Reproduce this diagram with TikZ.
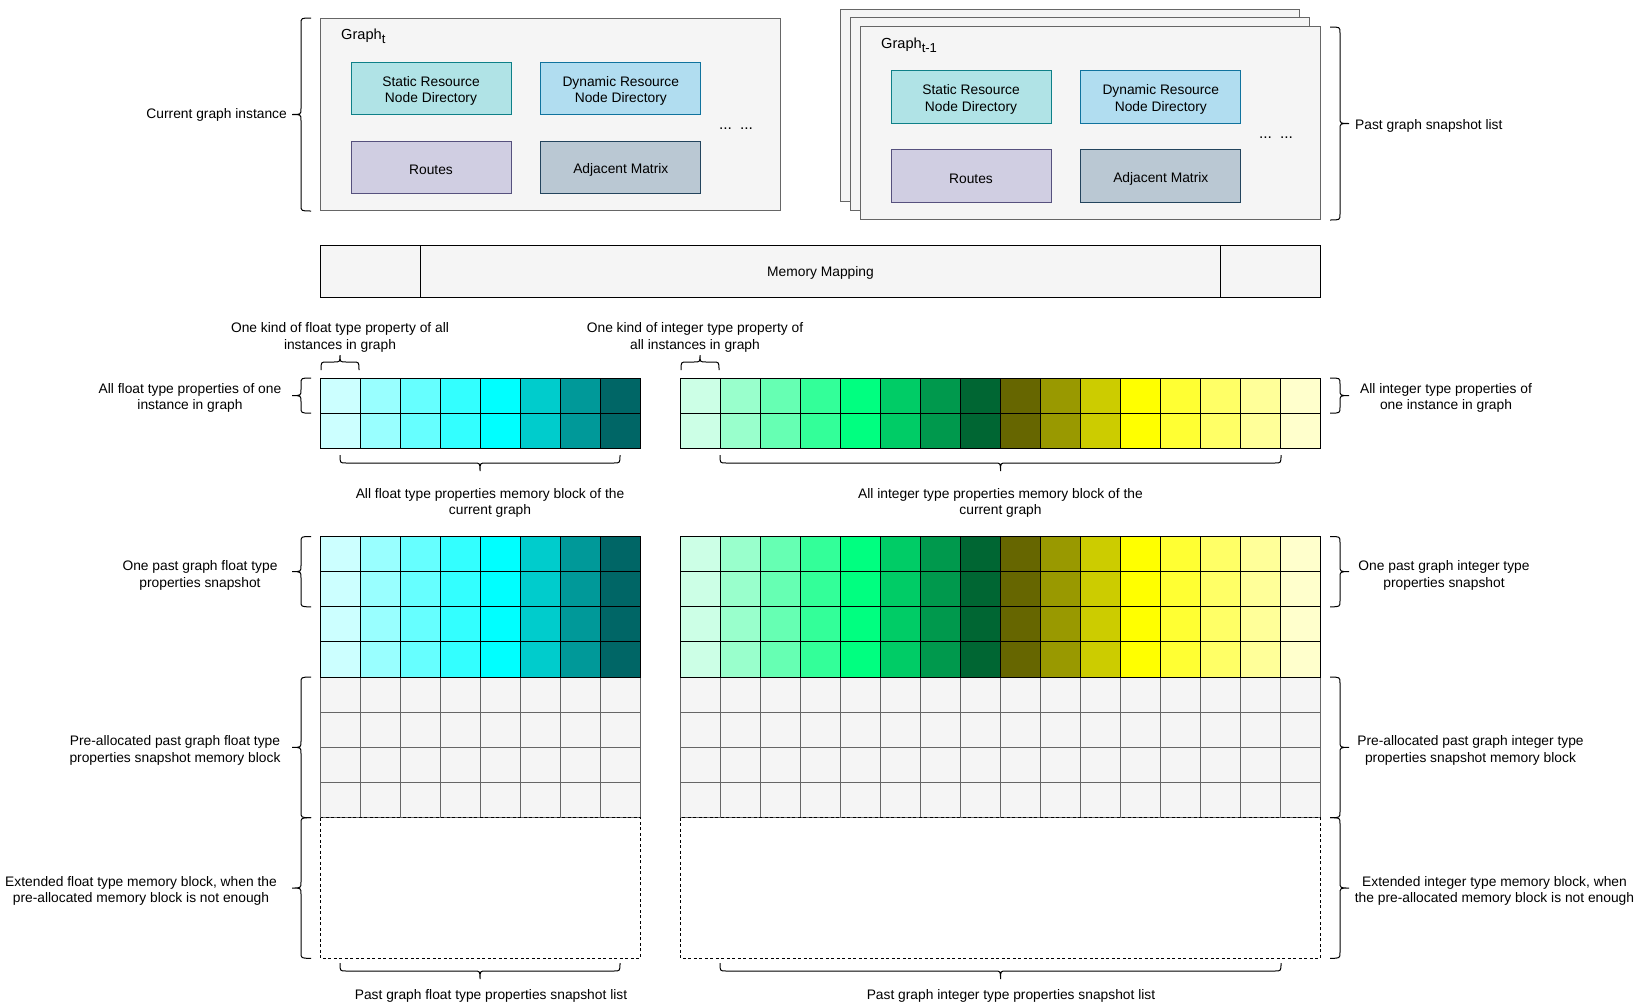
\documentclass[tikz,border=0pt]{standalone}
\usepackage{fontspec}
\setmainfont{Liberation Sans}
\usetikzlibrary{calc}
\definecolor{bgbox}{HTML}{F5F5F5}
\definecolor{bdbox}{HTML}{666666}
\definecolor{stfill}{HTML}{B0E3E6}
\definecolor{stdraw}{HTML}{0E8088}
\definecolor{dyfill}{HTML}{B1DDF0}
\definecolor{dydraw}{HTML}{10739E}
\definecolor{rofill}{HTML}{D0CEE2}
\definecolor{rodraw}{HTML}{56517E}
\definecolor{adfill}{HTML}{BAC8D3}
\definecolor{addraw}{HTML}{23445D}
\newcommand\gsub[1]{\raisebox{-4pt}{\fontsize{13}{13}\selectfont #1}}
\tikzset{
  every node/.style={font=\fontsize{13.8}{16.6}\selectfont, inner sep=0pt},
  container/.style={draw=bdbox, fill=bgbox, line width=1pt},
  inbox/.style={draw, line width=1pt, minimum width=160pt, minimum height=52.5pt, anchor=north west},
  lbl/.style={align=center, yshift=-2.4pt},
  dotsty/.style={font=\fontsize{15.5}{16}\selectfont, yshift=-3pt},
  gtitle/.style={anchor=west, font=\fontsize{14.6}{16}\selectfont, yshift=-1.5pt},
  brc/.style={draw=black, line width=1pt},
  cellc/.style={draw=black, line width=1pt},
  cellg/.style={draw=bdbox, fill=bgbox, line width=1pt},
}
% vertical brace: ends x, line x, tip x, top y, bottom y
\newcommand\vbr[5]{%
  \pgfmathsetmacro\bm{(#4+#5)/2}\pgfmathsetmacro\ba{#4+6}\pgfmathsetmacro\bb{#5-6}%
  \pgfmathsetmacro\bc{\bm-6}\pgfmathsetmacro\bd{\bm+6}%
  \draw[brc] (#1,#4) .. controls (#2,#4) .. (#2,\ba) -- (#2,\bc) .. controls (#2,\bm) .. (#3,\bm)
     .. controls (#2,\bm) .. (#2,\bd) -- (#2,\bb) .. controls (#2,#5) .. (#1,#5);}
% horizontal brace: ends y, line y, tip y, left x, right x
\newcommand\hbr[5]{%
  \pgfmathsetmacro\bm{(#4+#5)/2}\pgfmathsetmacro\ba{#4+6}\pgfmathsetmacro\bb{#5-6}%
  \pgfmathsetmacro\bc{\bm-6}\pgfmathsetmacro\bd{\bm+6}%
  \draw[brc] (#4,#1) .. controls (#4,#2) .. (\ba,#2) -- (\bc,#2) .. controls (\bm,#2) .. (\bm,#3)
     .. controls (\bm,#2) .. (\bd,#2) -- (\bb,#2) .. controls (#5,#2) .. (#5,#1);}
\begin{document}
\begin{tikzpicture}[x=1pt,y=-1pt]
\fill[white] (0,0) rectangle (1641,1004);
\useasboundingbox (0,0) rectangle (1641,1004);

% ---------- current graph ----------
\draw[container] (320.5,18) rectangle (780.8,210.8);
\node[gtitle] (gt) at (341,35) {Graph\gsub{t}};
\node[inbox, fill=stfill, draw=stdraw] (st) at (350.5,61.7) {};
\node[inbox, fill=dyfill, draw=dydraw] (dy) at (540.3,61.7) {};
\node[inbox, fill=rofill, draw=rodraw] (ro) at (350.5,140.8) {};
\node[inbox, fill=adfill, draw=addraw] (ad) at (540.3,140.8) {};
\node[lbl] (stt) at (st.center) {Static Resource\\Node Directory};
\node[lbl] (dyt) at (dy.center) {Dynamic Resource\\Node Directory};
\node[lbl] (rot) at (ro.center) {Routes};
\node[lbl] (adt) at (ad.center) {Adjacent Matrix};
\node[dotsty] (dots1) at (736,126) {...\hspace{8pt}...};
\vbr{311}{301}{292}{18}{211}
\node[lbl, anchor=east] (lcur) at (287,113) {Current graph instance};

% ---------- past graphs ----------
\draw[container] (840.4,9) rectangle (1299.5,201.8);
\draw[container] (850,17.8) rectangle (1309.8,210.6);
\draw[container] (860.5,26.6) rectangle (1320.8,219.4);
\node[gtitle] (gp) at (881,44) {Graph\gsub{t-1}};
\node[inbox, fill=stfill, draw=stdraw] (st2) at (890.5,70.3) {};
\node[inbox, fill=dyfill, draw=dydraw] (dy2) at (1080.3,70.3) {};
\node[inbox, fill=rofill, draw=rodraw] (ro2) at (890.5,149.4) {};
\node[inbox, fill=adfill, draw=addraw] (ad2) at (1080.3,149.4) {};
\node[lbl] (st2t) at (st2.center) {Static Resource\\Node Directory};
\node[lbl] (dy2t) at (dy2.center) {Dynamic Resource\\Node Directory};
\node[lbl] (ro2t) at (ro2.center) {Routes};
\node[lbl] (ad2t) at (ad2.center) {Adjacent Matrix};
\node[dotsty] (dots2) at (1276,135) {...\hspace{8pt}...};
\vbr{1330}{1340}{1349}{27}{220}
\node[lbl, anchor=west] (lpast) at (1355,124) {Past graph snapshot list};

% ---------- memory mapping ----------
\draw[draw=black, fill=bgbox, line width=1pt] (320.5,245) rectangle (1320.8,297);
\draw[line width=1pt] (420.7,245) -- (420.7,297) (1220.5,245) -- (1220.5,297);
\node[lbl] (mm) at (820.5,271) {Memory Mapping};

% ---------- property blocks ----------
\foreach \i in {0,...,7}{
  \foreach \r in {0,1,2,3}{\draw[cellg] ({320.5+40*\i},{677.1+35.15*\r}) rectangle ++(40,35.15);}
}
\foreach \i in {0,...,15}{
  \foreach \r in {0,1,2,3}{\draw[cellg] ({680.5+40*\i},{677.1+35.15*\r}) rectangle ++(40,35.15);}
}
\foreach \c [count=\i from 0] in {CCFFFF,99FFFF,66FFFF,33FFFF,00FFFF,00CCCC,009999,006666}{
  \edef\tmp{\noexpand\definecolor{tmpc}{HTML}{\c}}\tmp
  \foreach \r in {0,1}{\draw[cellc, fill=tmpc] ({320.5+40*\i},{378+35.15*\r}) rectangle ++(40,35.15);}
  \foreach \r in {0,1,2,3}{\draw[cellc, fill=tmpc] ({320.5+40*\i},{536.5+35.15*\r}) rectangle ++(40,35.15);}
}
\foreach \c [count=\i from 0] in {CCFFE6,99FFCC,66FFB3,33FF99,00FF80,00CC66,00994D,006633,666600,999900,CCCC00,FFFF00,FFFF33,FFFF66,FFFF99,FFFFCC}{
  \edef\tmp{\noexpand\definecolor{tmpc}{HTML}{\c}}\tmp
  \foreach \r in {0,1}{\draw[cellc, fill=tmpc] ({680.5+40*\i},{378+35.15*\r}) rectangle ++(40,35.15);}
  \foreach \r in {0,1,2,3}{\draw[cellc, fill=tmpc] ({680.5+40*\i},{536.5+35.15*\r}) rectangle ++(40,35.15);}
}
% extended dashed blocks
\draw[line width=1pt, dash pattern=on 3pt off 2.5pt] (320.5,817.7) rectangle (640.5,958.3);
\draw[line width=1pt, dash pattern=on 3pt off 2.5pt] (680.5,817.7) rectangle (1320.5,958.3);

% ---------- braces and labels ----------
\hbr{370}{362}{355}{321}{359}
\node[lbl] (lkf) at (340,335) {One kind of float type property of all\\instances in graph};
\hbr{370}{362}{355}{681}{719}
\node[lbl] (lki) at (695,335) {One kind of integer type property of\\all instances in graph};

\vbr{311}{301}{292}{378}{413.15}
\node[lbl] (lof) at (190,395.5) {All float type properties of one\\instance in graph};
\vbr{1330}{1340}{1349}{378}{413.15}
\node[lbl] (loi) at (1446,395.5) {All integer type properties of\\one instance in graph};

\hbr{455}{463}{471}{340}{620}
\node[lbl] (lmf) at (490,500.5) {All float type properties memory block of the\\current graph};
\hbr{455}{463}{471}{720}{1281}
\node[lbl] (lmi) at (1000.5,500.5) {All integer type properties memory block of the\\current graph};

\vbr{311}{301}{292}{536.5}{606.8}
\node[lbl] (lpf) at (200,573) {One past graph float type\\properties snapshot};
\vbr{1330}{1340}{1349}{536.5}{606.8}
\node[lbl] (lpi) at (1444,573) {One past graph integer type\\properties snapshot};

\vbr{311}{301}{292}{677.1}{817.7}
\node[lbl] (laf) at (175,748) {Pre-allocated past graph float type\\properties snapshot memory block};
\vbr{1330}{1340}{1349}{677.1}{817.7}
\node[lbl] (lai) at (1470.5,748) {Pre-allocated past graph integer type\\properties snapshot memory block};

\vbr{311}{301}{292}{817.7}{958.3}
\node[lbl] (lef) at (141,888.5) {Extended float type memory block, when the\\pre-allocated memory block is not enough};
\vbr{1330}{1340}{1349}{817.7}{958.3}
\node[lbl] (lei) at (1494.5,888.5) {Extended integer type memory block, when\\the pre-allocated memory block is not enough};

\hbr{963}{971}{979}{340}{620}
\node[lbl] (lsf) at (491,993.5) {Past graph float type properties snapshot list};
\hbr{963}{971}{979}{720}{1281}
\node[lbl] (lsi) at (1011,993.5) {Past graph integer type properties snapshot list};
\end{tikzpicture}
\end{document}
